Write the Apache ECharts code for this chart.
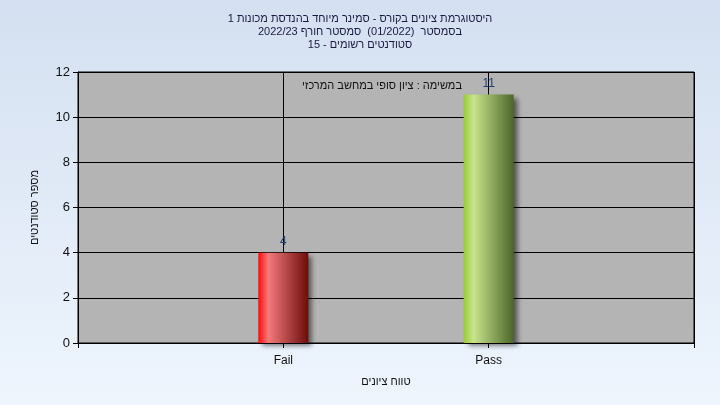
<!DOCTYPE html>
<html>
<head>
<meta charset="utf-8">
<script src="https://cdn.jsdelivr.net/npm/echarts@6/dist/echarts.min.js"></script>
<style>
  html, body { margin: 0; padding: 0; }
  #main { width: 720px; height: 405px; }
</style>
</head>
<body>
<div id="main" dir="rtl"></div>
<script>
var titleLines = [
  "היסטוגרמת ציונים בקורס - סמינר מיוחד בהנדסת מכונות 1",
  "בסמסטר  (01/2022)  סמסטר חורף 2022/23",
  "סטודנטים רשומים - 15"
];
var note = "במשימה : ציון סופי במחשב המרכזי";
var categories = ["", "Fail", "Pass", ""];
var counts = ["-", 4, 11, "-"];
var yTicks = { min: 0, max: 12, interval: 2 };
var xName = "טווח ציונים";
var yName = "מספר סטודנטים";

var font = "'Liberation Sans', 'DejaVu Sans', sans-serif";

function barGrad(c0, c1, c2) {
  return new echarts.graphic.LinearGradient(0, 0, 1, 0, [
    { offset: 0, color: c0 },
    { offset: 0.2, color: c1 },
    { offset: 1, color: c2 }
  ]);
}
var fills = [null, barGrad("#ff0a0a", "#f47a7a", "#6c0c0c"), barGrad("#9acb38", "#c8e48c", "#4b6628"), null];

var myChart = echarts.init(document.getElementById("main"));

var option = {
  backgroundColor: new echarts.graphic.LinearGradient(0, 0, 0, 1, [
    { offset: 0, color: "#d4e0f1" },
    { offset: 1, color: "#eef5fd" }
  ]),
  textStyle: { fontFamily: font },
  title: {
    text: titleLines.join("\n"),
    left: "center",
    top: 7,
    textStyle: { fontSize: 11, fontWeight: "normal", color: "#1a1a40", lineHeight: 13, fontFamily: font }
  },
  grid: {
    left: 78, right: 26, top: 72, bottom: 62,
    show: true,
    backgroundColor: "#b4b4b4",
    borderColor: "#000",
    borderWidth: 1
  },
  graphic: [{
    type: "text",
    right: 258,
    top: 80,
    style: { text: note, fontSize: 11, fill: "#111", fontFamily: font }
  }],
  xAxis: {
    type: "category",
    data: categories,
    boundaryGap: false,
    name: xName,
    nameLocation: "middle",
    nameGap: 33,
    nameTextStyle: { fontSize: 11, color: "#111" },
    axisLine: { lineStyle: { color: "#000" } },
    axisTick: { show: true, length: 5, lineStyle: { color: "#000" } },
    axisLabel: { fontSize: 12, color: "#111", margin: 12 },
    splitLine: { show: true, lineStyle: { color: "#000" } }
  },
  yAxis: {
    type: "value",
    min: yTicks.min,
    max: yTicks.max,
    interval: yTicks.interval,
    name: yName,
    nameLocation: "middle",
    nameGap: 38,
    nameTextStyle: { fontSize: 11, color: "#111" },
    axisLine: { show: true, lineStyle: { color: "#000" } },
    axisTick: { show: true, length: 5, lineStyle: { color: "#000" } },
    axisLabel: { fontSize: 13, color: "#111", margin: 8 },
    splitLine: { show: true, lineStyle: { color: "#000" } }
  },
  series: [{
    type: "bar",
    barWidth: 50,
    data: counts.map(function (v, i) {
      return { value: v, itemStyle: { color: fills[i] || "#000" } };
    }),
    itemStyle: {
      shadowColor: "rgba(0,0,0,0.55)",
      shadowBlur: 5,
      shadowOffsetX: 4,
      shadowOffsetY: 3
    },
    label: {
      show: true,
      position: "top",
      distance: 5,
      fontSize: 12,
      color: "#1f3f70"
    }
  }]
};

myChart.setOption(option);
</script>
</body>
</html>
